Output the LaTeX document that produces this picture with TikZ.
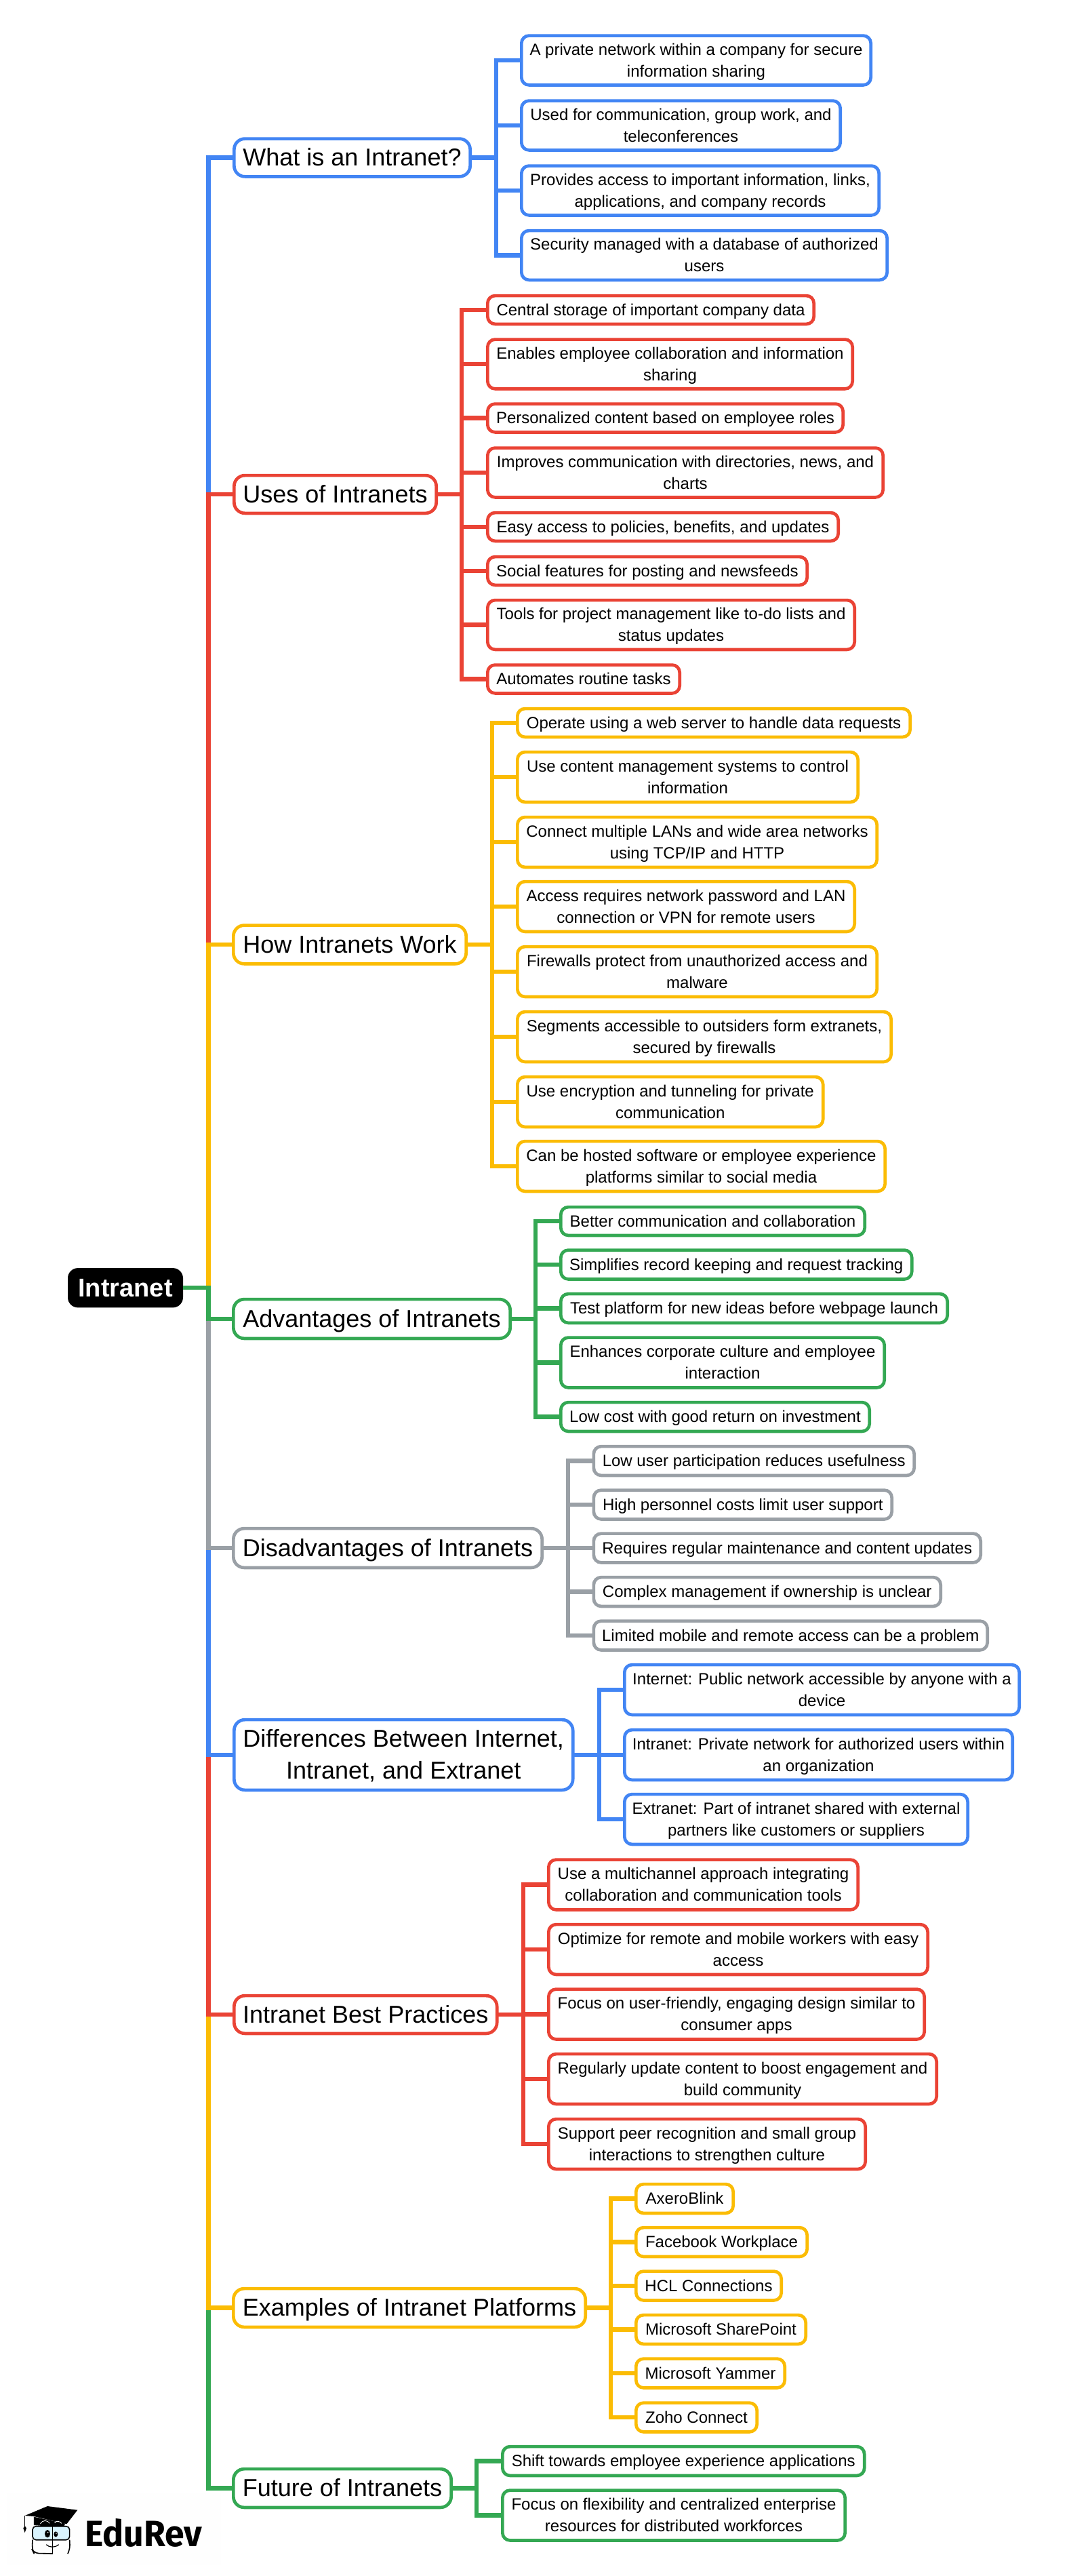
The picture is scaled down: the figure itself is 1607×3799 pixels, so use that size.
\documentclass[tikz,border=0pt]{standalone}
\usepackage{fontspec}
\setmainfont{Liberation Sans}
\newfontfamily\logofont{Fira Sans}
\definecolor{cblue}{HTML}{4285F4}
\definecolor{cred}{HTML}{EA4335}
\definecolor{cyel}{HTML}{FBBC04}
\definecolor{cgrn}{HTML}{34A853}
\definecolor{cgry}{HTML}{9AA0A6}
\newcommand{\st}{\rule[-.29em]{0pt}{1.25em}}
\tikzset{
  x=1pt,y=-1pt,
  boxbase/.style={draw,fill=white,line width=4.7pt,inner sep=0pt,outer sep=0pt,align=center,text=black},
  leaf/.style={boxbase,rounded corners=11pt,font=\fontsize{24}{32}\selectfont},
  topic/.style={boxbase,rounded corners=16pt,font=\fontsize{36}{47}\selectfont},
  conn/.style={line width=6.5pt,line join=miter},
}
% [style]{x0}{x1}{cy}{height}{colour}{name}{text}
\newcommand{\bx}[8][leaf]{\node[#1,draw=#6,minimum width={(#3-#2-1.7)*1pt},minimum height={(#5-2.2)*1pt}] (#7) at ({(#2+#3)/2-.5},#4) {\st #8\st};}
\newcommand{\lnk}[4]{\draw[conn,#4] (#1.east) -- (#1.east -| #2) |- (#3.west);}
\begin{document}
\begin{tikzpicture}
\useasboundingbox (0,0) rectangle (1607,3799);
\fill[white] (0,0) rectangle (1607,3799);
\fill[black!0.3] (10,3677) rectangle (326,3783);
\coordinate (trunk) at (307.4,0);
\coordinate (busA) at (732,0);
\coordinate (busB) at (681,0);
\coordinate (busC) at (726,0);
\coordinate (busD) at (790,0);
\coordinate (busE) at (838,0);
\coordinate (busF) at (884,0);
\coordinate (busG) at (772,0);
\coordinate (busH) at (901,0);
\coordinate (busI) at (703,0);

% root
\node[fill=black,rounded corners=15pt,inner sep=0pt,minimum width=170pt,minimum height=58.3pt,text=white,font=\fontsize{38}{46}\selectfont\bfseries] (root) at (185,1899.2) {Intranet};

% topics
\bx[topic]{345}{695}{232.5}{58}{cblue}{tA}{What is an Intranet?}
\bx[topic]{345}{645}{729}{58}{cred}{tB}{Uses of Intranets}
\bx[topic]{344}{689}{1393}{59}{cyel}{tC}{How Intranets Work}
\bx[topic]{344}{754}{1945}{60}{cgrn}{tD}{Advantages of Intranets}
\bx[topic]{344}{801}{2283}{60}{cgry}{tE}{Disadvantages of Intranets}
\bx[topic]{345}{846.5}{2588}{106}{cblue}{tF}{Differences Between Internet,\\Intranet, and Extranet}
\bx[topic]{345}{734.5}{2971}{58}{cred}{tG}{Intranet Best Practices}
\bx[topic]{344}{865}{3403.5}{59}{cyel}{tH}{Examples of Intranet Platforms}
\bx[topic]{344}{667}{3669.5}{59}{cgrn}{tI}{Future of Intranets}

% What is an Intranet?
\bx{769}{1286}{89}{75}{cblue}{a1}{A private network within a company for secure\\information sharing}
\bx{769}{1241}{185}{75}{cblue}{a2}{Used for communication, group work, and\\teleconferences}
\bx{769}{1298}{281}{75}{cblue}{a3}{Provides access to important information, links,\\applications, and company records}
\bx{769}{1310}{376.5}{75}{cblue}{a4}{Security managed with a database of authorized\\users}

% Uses
\bx{719}{1202}{457}{44}{cred}{b1}{Central storage of important company data}
\bx{719}{1259}{537}{75}{cred}{b2}{Enables employee collaboration and information\\sharing}
\bx{719}{1245}{616.5}{44}{cred}{b3}{Personalized content based on employee roles}
\bx{719}{1304}{697}{75}{cred}{b4}{Improves communication with directories, news, and\\charts}
\bx{719}{1238}{777}{44}{cred}{b5}{Easy access to policies, benefits, and updates}
\bx{719}{1192}{842}{44}{cred}{b6}{Social features for posting and newsfeeds}
\bx{719}{1262}{921.5}{75}{cred}{b7}{Tools for project management like to-do lists and\\status updates}
\bx{719}{1004}{1001.5}{44}{cred}{b8}{Automates routine tasks}

% How
\bx{763}{1344}{1066}{44}{cyel}{c1}{Operate using a web server to handle data requests}
\bx{763}{1267}{1146}{76}{cyel}{c2}{Use content management systems to control\\information}
\bx{763}{1295}{1242}{76}{cyel}{c3}{Connect multiple LANs and wide area networks\\using TCP/IP and HTTP}
\bx{763}{1262}{1337}{76}{cyel}{c4}{Access requires network password and LAN\\connection or VPN for remote users}
\bx{763}{1295}{1433}{76}{cyel}{c5}{Firewalls protect from unauthorized access and\\malware}
\bx{763}{1316}{1529}{76}{cyel}{c6}{Segments accessible to outsiders form extranets,\\secured by firewalls}
\bx{763}{1215.5}{1625}{76}{cyel}{c7}{Use encryption and tunneling for private\\communication}
\bx{763}{1307}{1720}{76}{cyel}{c8}{Can be hosted software or employee experience\\platforms similar to social media}

% Advantages
\bx{827}{1277}{1801}{44}{cgrn}{d1}{Better communication and collaboration}
\bx{827}{1346.5}{1865}{45}{cgrn}{d2}{Simplifies record keeping and request tracking}
\bx{827}{1399}{1929.5}{45}{cgrn}{d3}{Test platform for new ideas before webpage launch}
\bx{827}{1306}{2009.5}{76}{cgrn}{d4}{Enhances corporate culture and employee\\interaction}
\bx{827}{1284}{2089.5}{45}{cgrn}{d5}{Low cost with good return on investment}

% Disadvantages
\bx{875.5}{1350}{2154.5}{45}{cgry}{e1}{Low user participation reduces usefulness}
\bx{875.5}{1317}{2219}{45}{cgry}{e2}{High personnel costs limit user support}
\bx{875.5}{1448}{2283}{45}{cgry}{e3}{Requires regular maintenance and content updates}
\bx{875.5}{1389}{2347.5}{45}{cgry}{e4}{Complex management if ownership is unclear}
\bx{875.5}{1458}{2412}{45}{cgry}{e5}{Limited mobile and remote access can be a problem}

% Differences
\bx{921}{1505}{2492}{76}{cblue}{f1}{Internet: Public network accessible by anyone with a\\device}
\bx{921}{1495}{2588}{76}{cblue}{f2}{Intranet: Private network for authorized users within\\an organization}
\bx{921}{1429}{2683}{76}{cblue}{f3}{Extranet: Part of intranet shared with external\\partners like customers or suppliers}

% Best practices
\bx{809}{1267}{2779.5}{76}{cred}{g1}{Use a multichannel approach integrating\\collaboration and communication tools}
\bx{809}{1370}{2875}{76}{cred}{g2}{Optimize for remote and mobile workers with easy\\access}
\bx{809}{1365}{2970.5}{76}{cred}{g3}{Focus on user-friendly, engaging design similar to\\consumer apps}
\bx{809}{1383}{3066}{76}{cred}{g4}{Regularly update content to boost engagement and\\build community}
\bx{809}{1278}{3162}{76}{cred}{g5}{Support peer recognition and small group\\interactions to strengthen culture}

% Examples
\bx{938}{1083}{3242.5}{45}{cyel}{h1}{AxeroBlink}
\bx{938}{1192}{3306.5}{45}{cyel}{h2}{Facebook Workplace}
\bx{938}{1154}{3371}{45}{cyel}{h3}{HCL Connections}
\bx{938}{1190}{3435.5}{45}{cyel}{h4}{Microsoft SharePoint}
\bx{938}{1159}{3500}{45}{cyel}{h5}{Microsoft Yammer}
\bx{938}{1118}{3565}{45}{cyel}{h6}{Zoho Connect}

% Future
\bx{741}{1276.5}{3629.5}{45}{cgrn}{i1}{Shift towards employee experience applications}
\bx{741}{1248}{3709.5}{76}{cgrn}{i2}{Focus on flexibility and centralized enterprise\\resources for distributed workforces}

% connectors from root (nearest topic drawn last)
\lnk{root}{trunk}{tA}{cblue}
\lnk{root}{trunk}{tB}{cred}
\lnk{root}{trunk}{tC}{cyel}
\lnk{root}{trunk}{tI}{cgrn}
\lnk{root}{trunk}{tH}{cyel}
\lnk{root}{trunk}{tG}{cred}
\lnk{root}{trunk}{tF}{cblue}
\lnk{root}{trunk}{tE}{cgry}
\lnk{root}{trunk}{tD}{cgrn}

% connectors to leaves
\foreach \k in {a1,a2,a3,a4} {\lnk{tA}{busA}{\k}{cblue}}
\foreach \k in {b1,b2,b3,b4,b5,b6,b7,b8} {\lnk{tB}{busB}{\k}{cred}}
\foreach \k in {c1,c2,c3,c4,c5,c6,c7,c8} {\lnk{tC}{busC}{\k}{cyel}}
\foreach \k in {d1,d2,d3,d4,d5} {\lnk{tD}{busD}{\k}{cgrn}}
\foreach \k in {e1,e2,e3,e4,e5} {\lnk{tE}{busE}{\k}{cgry}}
\foreach \k in {f1,f2,f3} {\lnk{tF}{busF}{\k}{cblue}}
\foreach \k in {g1,g2,g3,g4,g5} {\lnk{tG}{busG}{\k}{cred}}
\foreach \k in {h1,h2,h3,h4,h5,h6} {\lnk{tH}{busH}{\k}{cyel}}
\foreach \k in {i1,i2} {\lnk{tI}{busI}{\k}{cgrn}}

% logo
\node[anchor=base west,inner sep=0pt,font=\fontsize{54}{60}\logofont\bfseries] (logo) at (125,3755.7) {\scalebox{.96}[1]{EduRev}};
\begin{scope}[shift={(20,3680)},x=0.3333pt,y=-0.3333pt]
  \fill[black] (90,95) -- (228,125) -- (222,142) -- (90,132) -- cycle;
  \draw[fill=cyan!15!white,line width=1.6pt,rounded corners=5pt] (84,137) rectangle (248,197);
  \draw[line width=1.6pt,rounded corners=7pt] (84,197) -- (82,240) -- (90,256) -- (172,258);
  \draw[line width=1.6pt,rounded corners=7pt] (248,197) -- (250,240) -- (240,258);
  \draw[line width=1.6pt] (172,128) -- (172,260);
  \fill[black] (150,48) -- (283,65) -- (235,127) -- (90,93) -- (50,90) -- cycle;
  \draw[line width=1pt] (50,90) -- (50,140);
  \fill[black] (43,145) -- (50,165) -- (57,145) -- (50,135) -- cycle;
  \draw[white,line width=0.8pt] (118,126) .. controls (128,108) and (150,108) .. (160,124);
  \draw[white,line width=0.8pt] (182,122) .. controls (190,110) and (205,114) .. (212,124);
  \fill[black] (150,170) ellipse [x radius=12,y radius=17];
  \fill[black] (187,172) ellipse [x radius=9,y radius=12];
  \fill[white] (152,164) circle [radius=3];
  \fill[white] (189,168) circle [radius=2.5];
  \draw[line width=1.2pt] (145,218) .. controls (158,232) and (185,232) .. (200,218);
\end{scope}
\end{tikzpicture}
\end{document}
